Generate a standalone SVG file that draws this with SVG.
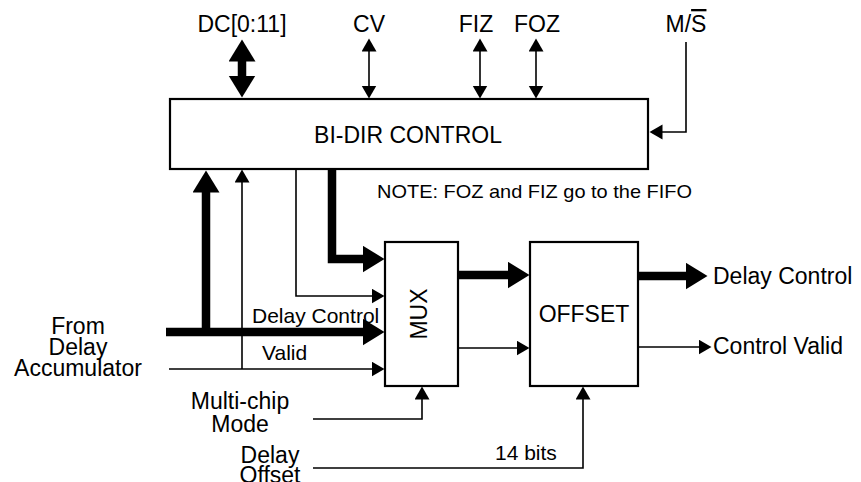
<svg xmlns="http://www.w3.org/2000/svg" width="861" height="482" viewBox="0 0 861 482">
<style>
text{font-family:"Liberation Sans",Arial,sans-serif;fill:#000}
.l{font-size:23px}
.m{font-size:21px}
.c{text-anchor:middle}
.box{fill:#fff;stroke:#000;stroke-width:2.2}
.thin{fill:none;stroke:#000;stroke-width:1.6}
.thick{fill:none;stroke:#000;stroke-width:8.5;stroke-linejoin:miter}
</style>
<defs>
<marker id="ah" markerUnits="userSpaceOnUse" markerWidth="14" markerHeight="16" refX="0.5" refY="7.5" orient="auto-start-reverse" viewBox="0 0 14 16">
<path d="M0,0 L13,7.5 L0,15 Z" fill="#000"/>
</marker>
<marker id="AH" markerUnits="userSpaceOnUse" markerWidth="23" markerHeight="28" refX="0.5" refY="13.5" orient="auto-start-reverse" viewBox="0 0 23 28">
<path d="M0,0 L22,13.5 L0,27 Z" fill="#000"/>
</marker>
</defs>

<g id="connectors">
<path class="thick" d="M242,61 V76" marker-start="url(#AH)" marker-end="url(#AH)"/>
<path class="thin" d="M369,51 V86" marker-start="url(#ah)" marker-end="url(#ah)"/>
<path class="thin" d="M480,51 V86" marker-start="url(#ah)" marker-end="url(#ah)"/>
<path class="thin" d="M536,51 V86" marker-start="url(#ah)" marker-end="url(#ah)"/>
<path class="thin" d="M686,42 V132 H662" marker-end="url(#ah)"/>
<path class="thick" d="M206,336 V192" marker-end="url(#AH)"/>
<path class="thin" d="M242,369 V182" marker-end="url(#ah)"/>
<path class="thin" d="M296,169 V296 H372" marker-end="url(#ah)"/>
<path class="thick" d="M332,169 V259 H363" marker-end="url(#AH)"/>
<path class="thick" d="M166,332 H363" marker-end="url(#AH)"/>
<path class="thin" d="M169,369 H372" marker-end="url(#ah)"/>
<path class="thick" d="M458,275 H508" marker-end="url(#AH)"/>
<path class="thin" d="M458,348 H517" marker-end="url(#ah)"/>
<path class="thick" d="M638,276 H686" marker-end="url(#AH)"/>
<path class="thin" d="M638,347 H699" marker-end="url(#ah)"/>
<path class="thin" d="M313,419 H422 V399" marker-end="url(#ah)"/>
<path class="thin" d="M313,468 H583 V399" marker-end="url(#ah)"/>
</g>

<g id="bidir">
<rect class="box" x="170" y="99" width="478" height="70"/>
<text class="l c" x="408" y="143">BI-DIR CONTROL</text>
</g>

<g id="mux">
<rect class="box" x="385" y="242" width="73" height="144"/>
<text class="l c" transform="rotate(-90)" x="-314" y="427">MUX</text>
</g>

<g id="offset">
<rect class="box" x="530" y="242" width="108" height="144"/>
<text class="l c" x="584" y="322">OFFSET</text>
</g>

<g id="labels">
<text class="l c" x="242" y="32">DC[0:11]</text>
<text class="l c" x="369" y="32">CV</text>
<text class="l c" x="476" y="32">FIZ</text>
<text class="l c" x="537" y="32">FOZ</text>
<text class="l c" x="686" y="32">M/<tspan style="text-decoration:overline">S</tspan></text>
<text x="377" y="198" font-size="19" textLength="315" lengthAdjust="spacingAndGlyphs">NOTE: FOZ and FIZ go to the FIFO</text>
<text class="l" x="713" y="284">Delay Control</text>
<text class="l" x="713" y="354">Control Valid</text>
<text class="m" x="252" y="323">Delay Control</text>
<text class="m" x="262" y="360">Valid</text>
<text class="l c" x="78" y="334">From</text>
<text class="l c" x="78" y="355">Delay</text>
<text class="l c" x="78" y="376">Accumulator</text>
<text class="l c" x="240" y="409">Multi-chip</text>
<text class="l c" x="240" y="432">Mode</text>
<text class="l c" x="270" y="463">Delay</text>
<text class="l c" x="270" y="483">Offset</text>
<text class="m" x="495" y="460">14 bits</text>
</g>
</svg>
